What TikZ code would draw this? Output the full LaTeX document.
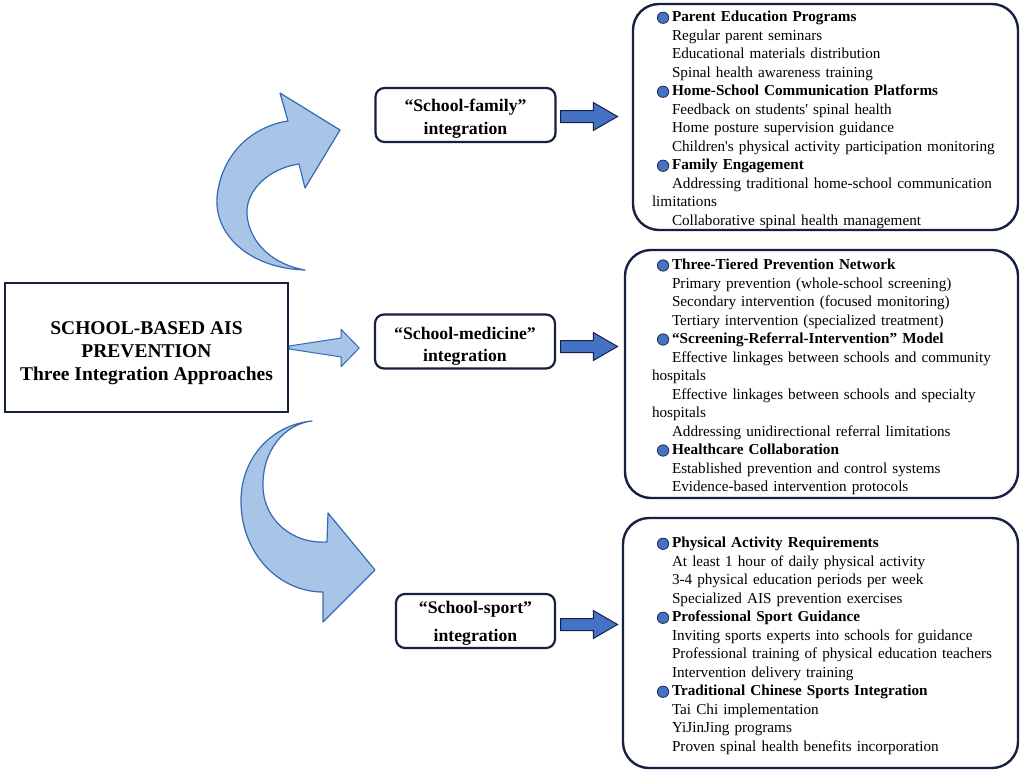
\documentclass[tikz,border=0pt]{standalone}
\usepackage{fontspec}
\setmainfont{Liberation Serif}
\usetikzlibrary{calc,shapes.arrows}
\definecolor{navy}{RGB}{22,32,66}
\definecolor{bulblue}{RGB}{68,114,196}
\definecolor{pale}{RGB}{168,197,232}
\definecolor{edgeblue}{RGB}{52,106,180}
\newcommand{\hd}[1]{\hspace*{5pt}\tikz[baseline=-4.2pt]\draw[fill=bulblue,draw=navy,line width=0.7pt] (0,0) circle (5.7pt);\hspace{3pt}\textbf{#1}}
\newcommand{\itm}[1]{\hspace*{20pt}#1}
% move text down inside a box, keeping the box size
\newcommand{\dropc}[2]{\raisebox{-#1}[\height][\depth]{\begin{tabular}{@{}c@{}}#2\end{tabular}}}
\newcommand{\dropl}[2]{\raisebox{-#1}[\height][\depth]{\begin{tabular}{@{}l@{}}#2\end{tabular}}}

\begin{document}
\begin{tikzpicture}[x=1pt,y=-1pt,
	mainbox/.style={draw=navy,line width=2.4pt,align=center,inner sep=0pt,
		font=\bfseries\fontsize{19.5}{23}\selectfont},
	waybox/.style={draw=navy,line width=2.2pt,rounded corners=9pt,align=center,inner sep=0pt,
		minimum height=54pt,font=\bfseries\fontsize{17.7}{22.5}\selectfont},
	listbox/.style={draw=navy,line width=2.4pt,rounded corners=26pt,inner ysep=0pt,
		font=\fontsize{15.2}{18.5}\selectfont},
	fatarrow/.style={single arrow,draw=navy,fill=bulblue,line width=1pt,anchor=west,
		minimum height=57pt,inner xsep=0pt,inner ysep=5.5pt,
		single arrow head extend=8pt,single arrow tip angle=60},
	bentarrow/.style={draw=edgeblue,fill=pale,line width=1.2pt,line join=round}]
		%%%%% START %%%%%
		\useasboundingbox (0,0) rectangle (1022,771);
		
		\node[mainbox,minimum width=283pt,minimum height=129pt] (main) at (146.5,347.5)
			{\dropc{5.5pt}{SCHOOL-BASED AIS\\PREVENTION\\Three Integration Approaches}};
		
		\node[waybox,minimum width=180pt] (family) at (465.5,115) {\dropc{3.5pt}{``School-family''\\integration}};
		\node[waybox,minimum width=180pt] (medicine) at (465,341.5) {\dropc{4.5pt}{``School-medicine''\\integration}};
		\node[waybox,minimum width=159pt] (sport) at (475.5,621) {\dropc{1.5pt}{``School-sport''\\[5.5pt]integration}};
		
		\node[listbox,text width=347pt,inner xsep=19pt,minimum height=226pt] (famlist) at (825.5,117) {%
			\dropl{3pt}{%
				\hd{Parent Education Programs}\\
				\itm{Regular parent seminars}\\
				\itm{Educational materials distribution}\\
				\itm{Spinal health awareness training}\\
				\hd{Home-School Communication Platforms}\\
				\itm{Feedback on students\textquotesingle{} spinal health}\\
				\itm{Home posture supervision guidance}\\
				\itm{Children\textquotesingle s physical activity participation monitoring}\\
				\hd{Family Engagement}\\
				\itm{Addressing traditional home-school communication}\\
				limitations\\
				\itm{Collaborative spinal health management}}};
		
		\node[listbox,text width=339pt,inner xsep=27pt,minimum height=248pt] (medlist) at (821.5,374) {%
			\dropl{3pt}{%
				\hd{Three-Tiered Prevention Network}\\
				\itm{Primary prevention (whole-school screening)}\\
				\itm{Secondary intervention (focused monitoring)}\\
				\itm{Tertiary intervention (specialized treatment)}\\
				\hd{``Screening-Referral-Intervention'' Model}\\
				\itm{Effective linkages between schools and community}\\
				hospitals\\
				\itm{Effective linkages between schools and specialty}\\
				hospitals\\
				\itm{Addressing unidirectional referral limitations}\\
				\hd{Healthcare Collaboration}\\
				\itm{Established prevention and control systems}\\
				\itm{Evidence-based intervention protocols}}};
		
		\node[listbox,text width=337pt,inner xsep=29pt,minimum height=250pt] (sportlist) at (820.5,643) {%
			\dropl{3pt}{%
				\hd{Physical Activity Requirements}\\
				\itm{At least 1 hour of daily physical activity}\\
				\itm{3-4 physical education periods per week}\\
				\itm{Specialized AIS prevention exercises}\\
				\hd{Professional Sport Guidance}\\
				\itm{Inviting sports experts into schools for guidance}\\
				\itm{Professional training of physical education teachers}\\
				\itm{Intervention delivery training}\\
				\hd{Traditional Chinese Sports Integration}\\
				\itm{Tai Chi implementation}\\
				\itm{YiJinJing programs}\\
				\itm{Proven spinal health benefits incorporation}}};
		
		% small arrows to the lists
		\node[fatarrow] (famarrow) at (560,116.5) {};
		\node[fatarrow] (medarrow) at (560,346.5) {};
		\node[fatarrow] (sportarrow) at (560,624.5) {};
		
		% bent arrows
		\draw[bentarrow] (305,270) .. controls (245,268) and (210,230) .. (218,190)
			.. controls (225,150) and (255,126) .. (288,121) -- (280,93) -- (340,130) -- (305,188) -- (299,164)
			.. controls (270,168) and (245,190) .. (247,215) .. controls (250,245) and (275,265) .. (305,270) -- cycle;
		\draw[bentarrow] (312,421) .. controls (270,425) and (240,460) .. (241,503)
			.. controls (242,555) and (280,592) .. (323,592) -- (323,622) -- (375,570) -- (328,513) -- (327,542)
			.. controls (292,544) and (264,520) .. (263,487) .. controls (262,450) and (285,424) .. (312,421) -- cycle;
		
		% tapered arrow to the middle
		\draw[bentarrow,line width=1pt] ($(main.east)+(0,-1.5)$) -- ($(main.east)+(52,-9.5)$) -- ($(main.east)+(52,-18)$)
			-- ($(main.east)+(70,0.5)$) -- ($(main.east)+(52,19)$) -- ($(main.east)+(52,9.5)$) -- ($(main.east)+(0,1.5)$) -- cycle;
		
		%%%%% END %%%%%
\end{tikzpicture}
\end{document}
